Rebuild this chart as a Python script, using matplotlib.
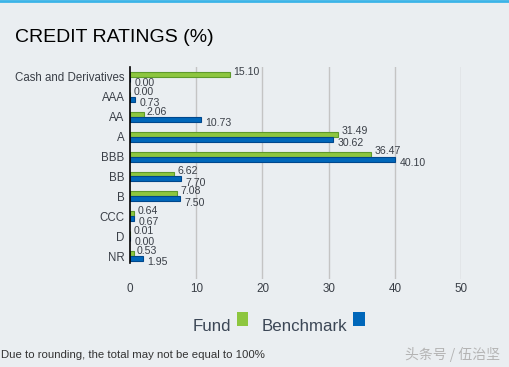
import matplotlib
matplotlib.use("Agg")
import matplotlib.pyplot as plt
from matplotlib.patches import Rectangle
import numpy as np

categories = ["Cash and Derivatives", "AAA", "AA", "A", "BBB", "BB", "B", "CCC", "D", "NR"]
fund = [15.10, 0.00, 2.06, 31.49, 36.47, 6.62, 7.08, 0.64, 0.01, 0.53]
benchmark = [0.00, 0.73, 10.73, 30.62, 40.10, 7.70, 7.50, 0.67, 0.00, 1.95]
xticks = [0, 10, 20, 30, 40, 50]

BG = "#EAEEF1"
GREEN = "#8DC63F"
GREEN_EDGE = "#5E9A2C"
BLUE = "#0067BA"
BLUE_EDGE = "#00478C"
TXT = "#3A3F47"

plt.rcParams["font.family"] = ["Liberation Sans", "DejaVu Sans"]

fig = plt.figure(figsize=(5.09, 3.67), dpi=100, facecolor=BG)
ax = fig.add_axes([130/509, 1-279/367, 331/509, 212/367])
ax.set_facecolor(BG)

y = np.arange(len(categories))
h = 0.25
ax.barh(y - h/2, fund, height=h, color=GREEN, edgecolor=GREEN_EDGE, linewidth=0.8, zorder=3)
ax.barh(y + h/2, benchmark, height=h, color=BLUE, edgecolor=BLUE_EDGE, linewidth=0.8, zorder=3)

for i in range(len(categories)):
    ax.text(fund[i] + 0.5, y[i] - 0.26, f"{fund[i]:.2f}", fontsize=7.6, color=TXT,
            va="center", ha="left", clip_on=False, zorder=4)
    ax.text(benchmark[i] + 0.7, y[i] + 0.31, f"{benchmark[i]:.2f}", fontsize=7.6, color=TXT,
            va="center", ha="left", clip_on=False, zorder=4)

ax.set_xlim(0, 50)
ax.set_ylim(10.15, -0.5)
ax.set_xticks(xticks)
ax.set_xticklabels([str(t) for t in xticks])
ax.set_yticks(y)
ax.set_yticklabels(categories)
ax.tick_params(axis="x", length=0, pad=3, labelsize=8.4, labelcolor=TXT)
ax.tick_params(axis="y", length=0, pad=4, labelsize=8.3, labelcolor=TXT)
for s in ax.spines.values():
    s.set_visible(False)
for t in xticks[1:]:
    ax.axvline(t, color="#C4C4C4", linewidth=1, zorder=1)
ax.plot([0, 0], [-0.5, 9.35], color="black", linewidth=1.2, zorder=5, clip_on=False)

# title
fig.text(15/509, 1-42.5/367, "CREDIT RATINGS (%)", fontsize=14, color="black", va="baseline", ha="left")

# legend
fig.text(193/509, 1-331/367, "Fund", fontsize=12.2, color="#3C4756", va="baseline", ha="left")
fig.text(262/509, 1-331/367, "Benchmark", fontsize=12.2, color="#3C4756", va="baseline", ha="left")
fig.patches.append(Rectangle((237/509, 1-326/367), 11/509, 14/367, transform=fig.transFigure,
                             facecolor=GREEN, edgecolor="none"))
fig.patches.append(Rectangle((353/509, 1-326/367), 12/509, 14/367, transform=fig.transFigure,
                             facecolor=BLUE, edgecolor="none"))

# footer
fig.text(1/509, 1-358/367, "Due to rounding, the total may not be equal to 100%", fontsize=8.2,
         color="#333333", va="baseline", ha="left")
fig.text(500/509, 1-354/367, "头条号 / 伍治坚", fontsize=10, color="#B4B4B4", va="center", ha="right",
         family=["Noto Sans CJK SC", "DejaVu Sans"])

# top border
fig.add_artist(plt.Line2D([0, 1], [1-1/367, 1-1/367], transform=fig.transFigure, color="#3BB4E8", linewidth=2))

fig.savefig("out.png", dpi=100, facecolor=BG)
